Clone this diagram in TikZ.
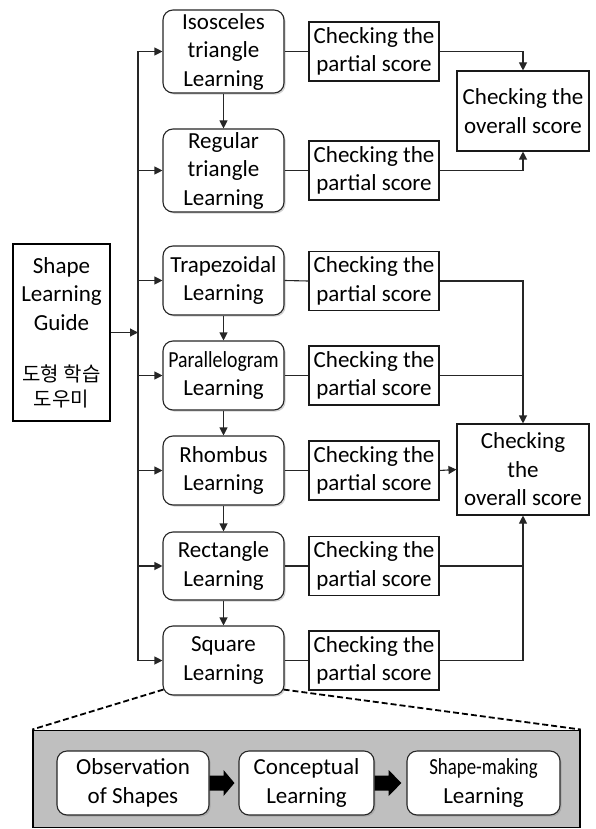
\documentclass[tikz,border=0pt]{standalone}
\usepackage{fontspec}
\usepackage{graphicx}
\setmainfont{Carlito}
\newfontfamily\krfont{Noto Sans CJK KR}
\usetikzlibrary{arrows.meta,shadows,calc}

\begin{document}
\begin{tikzpicture}[x=1pt,y=-1pt,
  font=\fontsize{23}{28.5}\selectfont,
  line/.style={draw=black!85, line width=1.1pt},
  arr/.style={line, -{Triangle[length=8pt,width=8pt]}},
  learnbox/.style={draw=black!85, line width=1.1pt, rounded corners=10pt,
    fill=white, align=center, minimum width=121pt, inner sep=0pt,
    drop shadow={shadow xshift=1.6pt, shadow yshift=-1.6pt, opacity=0.35}},
  partbox/.style={draw=black!90, line width=1.1pt, fill=white, align=center,
    minimum width=130pt, minimum height=59pt, inner sep=0pt},
  totalbox/.style={draw=black!90, line width=1.1pt, fill=white, align=center,
    minimum width=132pt, inner sep=0pt},
  stagebox/.style={draw=black!85, line width=1.1pt, rounded corners=10pt,
    fill=white, align=center, minimum height=64pt, inner sep=0pt,
    drop shadow={shadow xshift=1.6pt, shadow yshift=-1.6pt, opacity=0.35}},
  blockarrow/.style={fill=black}
]
\useasboundingbox (0,0) rectangle (595,829);

% guide box
\node[draw=black, line width=2pt, align=center, minimum width=97pt,
  minimum height=177pt, inner sep=0pt] (guide) at (61.5,332.5)
  {Shape\\Learning\\Guide\\[22.5pt]{\krfont\fontsize{20}{25}\selectfont 도형 학습}\\[-3.5pt]{\krfont\fontsize{20}{25}\selectfont 도우미}};

% learning units
\node[learnbox, minimum height=83pt] (iso)  at (223.5,51.5)  {Isosceles\\triangle\\Learning};
\node[learnbox, minimum height=83pt] (reg)  at (223.5,170.5) {Regular\\triangle\\Learning};
\node[learnbox, minimum height=69pt] (trap) at (223.5,280.5) {Trapezoidal\\Learning};
\node[learnbox, minimum height=69pt] (para) at (223.5,375.5) {\scalebox{0.86}[1]{Parallelogram}\\Learning};
\node[learnbox, minimum height=69pt] (rhom) at (223.5,470.5) {Rhombus\\Learning};
\node[learnbox, minimum height=68pt] (rect) at (223.5,566)   {Rectangle\\Learning};
\node[learnbox, minimum height=69pt] (sq)   at (223.5,660.5) {Square\\Learning};

% partial score checks
\node[partbox] (p1) at (374,51.5)  {Checking the\\partial score};
\node[partbox] (p2) at (374,170.5) {Checking the\\partial score};
\node[partbox] (p3) at (374,281)   {Checking the\\partial score};
\node[partbox] (p4) at (374,375.5) {Checking the\\partial score};
\node[partbox] (p5) at (374,470.5) {Checking the\\partial score};
\node[partbox] (p6) at (374,566)   {Checking the\\partial score};
\node[partbox] (p7) at (374,660.5) {Checking the\\partial score};

% overall score checks
\node[totalbox, minimum height=80pt] (o1) at (523,111)   {Checking the\\overall score};
\node[totalbox, minimum height=91pt] (o2) at (523,469.5) {Checking\\the\\overall score};

% distribution bus
\coordinate (bt) at (138,51.5);
\coordinate (bb) at (138,660.5);
\draw[line] (bt) -- (bb);
\draw[arr] (guide.east) -- (guide.east -| bt);
\foreach \n in {iso,reg,trap,para,rhom,rect,sq}
  \draw[arr] (\n.west -| bt) -- (\n.west);

% sequence between units
\draw[arr] (iso.south) -- (reg.north);
\draw[arr] (trap.south) -- (para.north);
\draw[arr] (para.south) -- (rhom.north);
\draw[arr] (rhom.south) -- (rect.north);
\draw[arr] (rect.south) -- (sq.north);

% units to partial checks
\draw[line] (iso.east) -- (p1.west);
\draw[line] (reg.east) -- (p2.west);
\draw[line] (trap.east) -- (p3.west);
\draw[line] (para.east) -- (p4.west);
\draw[line] (rhom.east) -- (p5.west);
\draw[line] (rect.east) -- (p6.west);
\draw[line] (sq.east) -- (p7.west);

% partial checks to overall checks
\draw[arr] (p1.east) -| (o1.north);
\draw[arr] (p2.east) -| (o1.south);
\draw[arr] (p3.east) -| (o2.north);
\draw[line] (p4.east) -- (p4.east -| o2.north);
\draw[arr] (p5.east) -- (o2.west);
\draw[arr] (p6.east) -| (o2.south);
\draw[line] (p7.east) -| (p6.east -| o2.south);

% detail panel of a unit
\node[draw=black, line width=1.5pt, fill=black!25, minimum width=547pt,
  minimum height=97pt, inner sep=0pt] (panel) at (306.5,778.75) {};
\draw[black, line width=1.8pt, dash pattern=on 6pt off 3pt]
  ($(sq.south west)+(1,-6)$) -- (panel.north west);
\draw[black, line width=1.8pt, dash pattern=on 6pt off 3pt]
  ($(sq.south east)+(-1,-6)$) -- (panel.north east);

\node[stagebox, minimum width=152pt] (obs)  at (133,783)   {Observation\\of Shapes};
\node[stagebox, minimum width=135pt] (conc) at (306.5,783) {Conceptual\\Learning};
\node[stagebox, minimum width=153pt] (make) at (483.5,783) {\scalebox{0.82}[1]{Shape-making}\\Learning};

\fill[blockarrow] ($(obs.east)+(0,-7.5)$) -- ($(obs.east)+(14,-7.5)$)
  -- ($(obs.east)+(14,-13)$) -- ($(conc.west)+(-4,0)$)
  -- ($(obs.east)+(14,13)$) -- ($(obs.east)+(14,7.5)$)
  -- ($(obs.east)+(0,7.5)$) -- cycle;
\fill[blockarrow] ($(conc.east)+(0,-7.5)$) -- ($(conc.east)+(14,-7.5)$)
  -- ($(conc.east)+(14,-13)$) -- ($(make.west)+(-5,0)$)
  -- ($(conc.east)+(14,13)$) -- ($(conc.east)+(14,7.5)$)
  -- ($(conc.east)+(0,7.5)$) -- cycle;
\end{tikzpicture}
\end{document}
